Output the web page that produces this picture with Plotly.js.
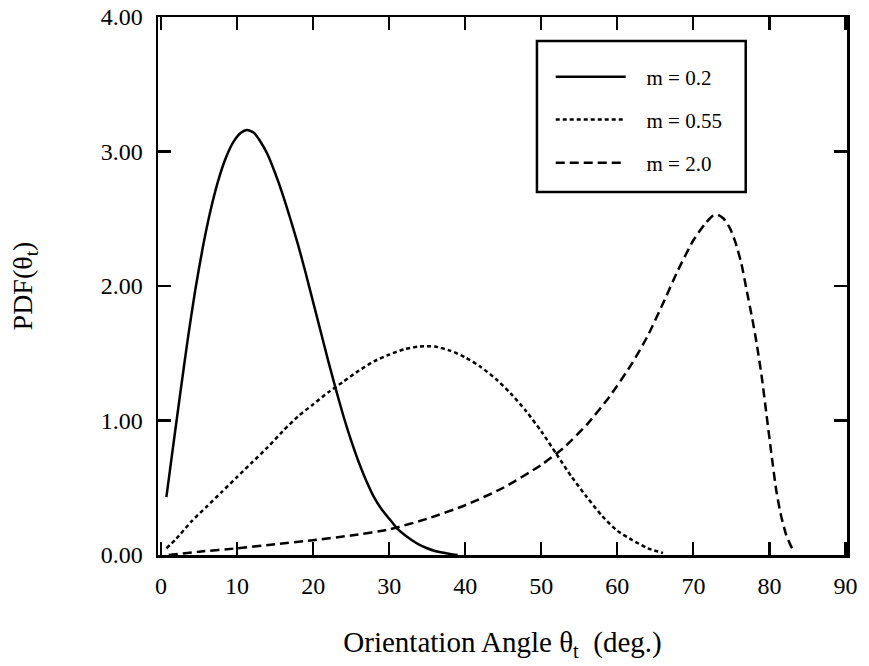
<!DOCTYPE html>
<html>
<head>
<meta charset="utf-8">
<script src="https://cdn.plot.ly/plotly-3.0.1.min.js"></script>
<style>html,body{margin:0;padding:0;background:#fff;}#chart{width:869px;height:666px;}</style>
</head>
<body>
<div id="chart"></div>
<script>
// m = 0.2 (solid)
const thetaM02 = [0.7, 1.5, 2.5, 3.5, 4.5, 5.5, 6.5, 7.5, 8.5, 9.5, 10.5, 11.3, 12.2, 13, 14, 15, 16, 17, 18, 19, 20, 21, 22, 23, 24, 25, 26, 27, 28, 29, 30, 31, 32, 33, 34, 35, 36, 37, 38, 39];
const pdfM02   = [0.43, 0.77, 1.19, 1.60, 1.97, 2.29, 2.56, 2.78, 2.95, 3.07, 3.14, 3.16, 3.14, 3.08, 2.98, 2.84, 2.68, 2.50, 2.31, 2.10, 1.88, 1.66, 1.44, 1.23, 1.03, 0.85, 0.69, 0.55, 0.43, 0.34, 0.27, 0.20, 0.15, 0.11, 0.075, 0.05, 0.03, 0.018, 0.008, 0.0];
// m = 0.55 (dotted)
const thetaM055 = [0.7, 2, 4, 6, 8, 10, 12, 14, 16, 18, 20, 22, 24, 26, 28, 30, 32, 34, 36, 38, 40, 42, 44, 46, 48, 50, 52, 54, 56, 58, 60, 62, 64, 66];
const pdfM055   = [0.05, 0.12, 0.25, 0.36, 0.47, 0.58, 0.69, 0.80, 0.92, 1.03, 1.12, 1.21, 1.29, 1.37, 1.44, 1.49, 1.53, 1.55, 1.55, 1.52, 1.47, 1.40, 1.31, 1.20, 1.07, 0.92, 0.75, 0.58, 0.43, 0.29, 0.18, 0.11, 0.05, 0.015];
// m = 2.0 (dashed)
const thetaM20 = [1, 5, 10, 15, 20, 25, 30, 35, 40, 45, 50, 53, 56, 59, 62, 64, 66, 68, 70, 71.5, 72.5, 73.2, 74, 74.8, 75.5, 76.3, 77, 77.7, 78.3, 79, 79.6, 80.2, 80.9, 81.5, 82.2, 82.8, 83.3];
const pdfM20   = [0.0, 0.025, 0.05, 0.08, 0.11, 0.145, 0.19, 0.27, 0.37, 0.50, 0.67, 0.80, 0.97, 1.18, 1.43, 1.63, 1.87, 2.12, 2.34, 2.46, 2.52, 2.53, 2.50, 2.43, 2.33, 2.17, 1.97, 1.77, 1.58, 1.32, 1.05, 0.78, 0.48, 0.30, 0.15, 0.07, 0.02];

const seriesNames = ['\u00a0\u00a0\u00a0m = 0.2', '\u00a0\u00a0\u00a0m = 0.55', '\u00a0\u00a0\u00a0m = 2.0'];
const xTickVals = [0, 10, 20, 30, 40, 50, 60, 70, 80, 90];
const xMinorVals = [5, 15, 25, 35, 45, 55, 65, 75, 85];
const yTickVals = [0, 1, 2, 3, 4];
const yMinorVals = [0.2, 0.4, 0.6, 0.8, 1.2, 1.4, 1.6, 1.8, 2.2, 2.4, 2.6, 2.8, 3.2, 3.4, 3.6, 3.8];

const serif = 'Liberation Serif, Times New Roman, serif';
const xRange = [-0.4, 90.2];
const yRange = [0, 4];

const traces = [
  {x: thetaM02, y: pdfM02, name: seriesNames[0], mode: 'lines', line: {color: '#000', width: 2.5, shape: 'spline', smoothing: 0.6}, legend: 'legend'},
  {x: thetaM055, y: pdfM055, name: seriesNames[1], mode: 'lines', line: {color: '#000', width: 2.5, dash: '4px,3px', shape: 'spline', smoothing: 0.6}, legend: 'legend2'},
  {x: thetaM20, y: pdfM20, name: seriesNames[2], mode: 'lines', line: {color: '#000', width: 2.5, dash: '9px,5px', shape: 'spline', smoothing: 0.6}, legend: 'legend3'}
];

const legendBase = (yy) => ({
  x: 0.570, y: yy, xanchor: 'left', yanchor: 'middle',
  bgcolor: 'rgba(0,0,0,0)', borderwidth: 0,
  font: {family: serif, size: 21, color: '#000'}, itemwidth: 70
});

const axisCommon = {
  showgrid: false, zeroline: false, showline: true, linecolor: '#000', linewidth: 2.5,
  mirror: 'allticks', ticks: 'inside', tickcolor: '#000', tickwidth: 2.2, ticklen: 13,
  tickfont: {family: serif, size: 24, color: '#000'}, automargin: false
};
const minorCommon = {
  showgrid: false, zeroline: false, showline: false, showticklabels: false,
  mirror: 'allticks', ticks: 'inside', tickcolor: '#000', tickwidth: 2.2, ticklen: 5, automargin: false
};

const layout = {
  width: 869, height: 666,
  margin: {l: 158, r: 22, t: 17, b: 111},
  paper_bgcolor: '#fff', plot_bgcolor: '#fff',
  showlegend: true,
  xaxis: Object.assign({}, axisCommon, {
    range: xRange, tickvals: xTickVals, ticktext: xTickVals.map(String),
    ticklabelstandoff: 8,
    title: {text: 'Orientation Angle θ<sub>t</sub>  (deg.)', font: {family: serif, size: 29, color: '#000'}, standoff: 34}
  }),
  yaxis: Object.assign({}, axisCommon, {
    range: yRange, tickvals: yTickVals, ticktext: yTickVals.map(v => v.toFixed(2)),
    ticklabelstandoff: 8,
    title: {text: 'PDF(θ<sub>t</sub>)', font: {family: serif, size: 28, color: '#000'}, standoff: 60}
  }),
  xaxis2: Object.assign({}, minorCommon, {overlaying: 'x', anchor: 'y', side: 'bottom', range: xRange, tickvals: xMinorVals}),
  yaxis2: Object.assign({}, minorCommon, {overlaying: 'y', anchor: 'x', side: 'left', range: yRange, tickvals: yMinorVals}),
  legend: legendBase(0.8885),
  legend2: legendBase(0.8086),
  legend3: legendBase(0.7286),
  shapes: [{type: 'rect', xref: 'paper', yref: 'paper', x0: 0.550, x1: 0.853, y0: 0.6747, y1: 0.9554, line: {color: '#000', width: 2.5}, fillcolor: 'rgba(0,0,0,0)'}]
};

Plotly.newPlot('chart', traces, layout, {displayModeBar: false, staticPlot: true});
</script>
</body>
</html>
